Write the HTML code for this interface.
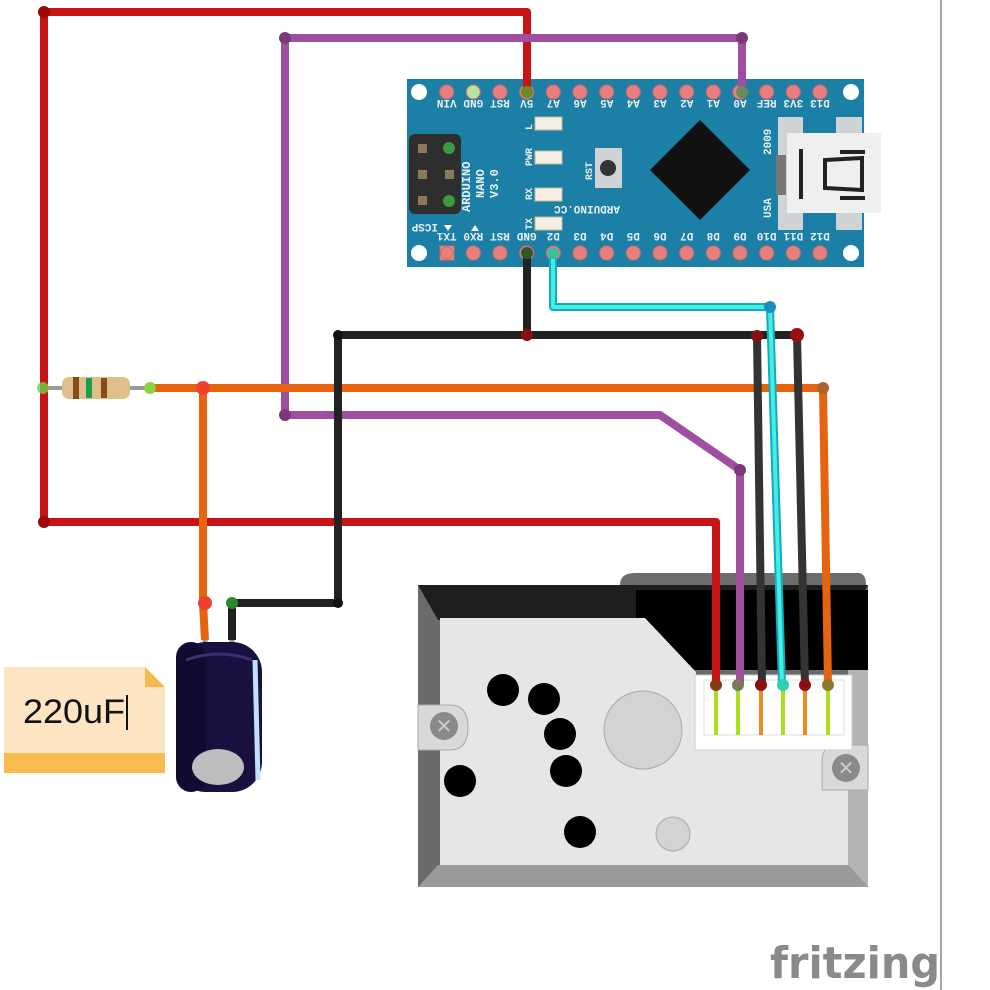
<!DOCTYPE html>
<html><head><meta charset="utf-8"><style>
html,body{margin:0;padding:0;background:#fff;}
svg{display:block;}
text{font-family:"Liberation Mono","DejaVu Sans Mono",monospace;}
</style></head><body>
<svg width="990" height="990" viewBox="0 0 990 990" xmlns="http://www.w3.org/2000/svg">
<rect width="990" height="990" fill="#fff"/>
<line x1="941" y1="0" x2="941" y2="990" stroke="#888" stroke-width="1.5"/>

<!-- Arduino board -->
<rect x="407" y="79" width="457" height="188" fill="#1c7fa6"/>
<circle cx="419" cy="92" r="8" fill="#fff"/><circle cx="851" cy="92" r="8" fill="#fff"/>
<circle cx="419" cy="253" r="8" fill="#fff"/><circle cx="851" cy="253" r="8" fill="#fff"/>
<g fill="#e87f7f" stroke="#d66" stroke-width="1">
<circle cx="446.7" cy="92" r="7"/><circle cx="473.3" cy="92" r="7" fill="#b5e3a0"/><circle cx="500" cy="92" r="7"/><circle cx="526.7" cy="92" r="7"/><circle cx="553.3" cy="92" r="7"/><circle cx="580" cy="92" r="7"/><circle cx="606.7" cy="92" r="7"/><circle cx="633.3" cy="92" r="7"/><circle cx="660" cy="92" r="7"/><circle cx="686.7" cy="92" r="7"/><circle cx="713.3" cy="92" r="7"/><circle cx="740" cy="92" r="7"/><circle cx="766.7" cy="92" r="7"/><circle cx="793.3" cy="92" r="7"/><circle cx="820" cy="92" r="7"/>
<rect x="440" y="246" width="14" height="14" fill="#c9a27a"/><circle cx="446.7" cy="253" r="6"/><circle cx="473.3" cy="253" r="7"/><circle cx="500" cy="253" r="7"/><circle cx="526.7" cy="253" r="7"/><circle cx="553.3" cy="253" r="7"/><circle cx="580" cy="253" r="7"/><circle cx="606.7" cy="253" r="7"/><circle cx="633.3" cy="253" r="7"/><circle cx="660" cy="253" r="7"/><circle cx="686.7" cy="253" r="7"/><circle cx="713.3" cy="253" r="7"/><circle cx="740" cy="253" r="7"/><circle cx="766.7" cy="253" r="7"/><circle cx="793.3" cy="253" r="7"/><circle cx="820" cy="253" r="7"/>
</g>
<g fill="#e8f0f4" font-size="11" font-weight="bold" text-anchor="middle">
<g transform="rotate(180 631 104)">
<text x="815.3" y="108">VIN</text><text x="788.7" y="108">GND</text><text x="762" y="108">RST</text><text x="735.3" y="108">5V</text><text x="708.7" y="108">A7</text><text x="682" y="108">A6</text><text x="655.3" y="108">A5</text><text x="628.7" y="108">A4</text><text x="602" y="108">A3</text><text x="575.3" y="108">A2</text><text x="548.7" y="108">A1</text><text x="522" y="108">A0</text><text x="495.3" y="108">REF</text><text x="468.7" y="108">3V3</text><text x="442" y="108">D13</text>
</g>
<g transform="rotate(180 631 237)">
<text x="815.3" y="241">TX1</text><text x="788.7" y="241">RX0</text><text x="762" y="241">RST</text><text x="735.3" y="241">GND</text><text x="708.7" y="241">D2</text><text x="682" y="241">D3</text><text x="655.3" y="241">D4</text><text x="628.7" y="241">D5</text><text x="602" y="241">D6</text><text x="575.3" y="241">D7</text><text x="548.7" y="241">D8</text><text x="522" y="241">D9</text><text x="495.3" y="241">D10</text><text x="468.7" y="241">D11</text><text x="442" y="241">D12</text>
</g>
</g>
<!-- ICSP -->
<rect x="409" y="134" width="52" height="80" rx="6" fill="#2e2e2e"/>
<g fill="#8a7a5a"><rect x="418" y="144" width="9" height="9"/><rect x="418" y="170" width="9" height="9"/><rect x="418" y="196" width="9" height="9"/><rect x="445" y="170" width="9" height="9"/></g>
<g fill="#3c9a3c"><circle cx="449" cy="148" r="6"/><circle cx="449" cy="201" r="6"/></g>
<text x="0" y="0" fill="#e8f0f4" font-size="11" font-weight="bold" transform="translate(438 224) rotate(180)">ICSP</text>
<text x="0" y="0" fill="#e8f0f4" font-size="12" font-weight="bold" transform="translate(470 212) rotate(-90)">ARDUINO</text>
<text x="0" y="0" fill="#e8f0f4" font-size="12" font-weight="bold" transform="translate(484 198) rotate(-90)">NANO</text>
<text x="0" y="0" fill="#e8f0f4" font-size="12" font-weight="bold" transform="translate(498 198) rotate(-90)">V3.0</text>
<text x="0" y="0" fill="#e8f0f4" font-size="11" font-weight="bold" transform="translate(620 206) rotate(180)">ARDUINO.CC</text>
<polygon points="444,225 452,225 448,231" fill="#fff"/><polygon points="471,231 479,231 475,225" fill="#fff"/>
<!-- LEDs -->
<g fill="#f4efe4" stroke="#c9b99a"><rect x="535" y="117" width="27" height="13"/><rect x="535" y="151" width="27" height="13"/><rect x="535" y="188" width="27" height="13"/><rect x="535" y="217" width="27" height="13"/></g>
<g fill="#e8f0f4" font-size="10" font-weight="bold"><text transform="translate(532 130) rotate(-90)">L</text><text transform="translate(532 166) rotate(-90)">PWR</text><text transform="translate(532 200) rotate(-90)">RX</text><text transform="translate(532 230) rotate(-90)">TX</text><text transform="translate(592 180) rotate(-90)">RST</text></g>
<rect x="595" y="148" width="27" height="40" fill="#cfd3d6"/><circle cx="608" cy="168" r="8" fill="#333"/>
<polygon points="700,120 750,170 700,220 650,170" fill="#111"/>
<g fill="#e8f0f4" font-size="11" font-weight="bold"><text transform="translate(771 155) rotate(-90)">2009</text><text transform="translate(771 218) rotate(-90)">USA</text></g>
<g fill="#cfd3d6"><rect x="778" y="117" width="25" height="113"/><rect x="836" y="117" width="26" height="113"/></g>
<rect x="787" y="133" width="94" height="80" fill="#efefef"/>
<rect x="776" y="155" width="10" height="40" fill="#777"/>
<g fill="#222"><rect x="799" y="149" width="4" height="50"/><rect x="840" y="150" width="25" height="4"/><rect x="840" y="196" width="25" height="4"/><path d="M825 160 L862 158 L862 190 L825 188 Z" fill="none" stroke="#222" stroke-width="4"/></g>

<!-- Sensor -->
<path d="M620 585 Q620 573 635 573 L858 573 Q866 573 866 585 Z" fill="#6d6d6d"/>
<polygon points="418,585 868,585 868,887 418,887" fill="#6a6a6a"/>
<polygon points="418,585 868,585 848,620 438,620" fill="#1e1e1e"/>
<polygon points="418,887 868,887 848,865 438,865" fill="#9a9a9a"/>
<polygon points="848,590 868,590 868,887 848,865" fill="#b4b4b4"/>
<rect x="636" y="590" width="232" height="80" fill="#000"/>
<path d="M440 618 L645 618 L696 672 L696 750 L848 750 L848 865 L440 865 Z" fill="#e6e6e6"/>
<path d="M418 705 L450 705 Q468 705 468 727 Q468 750 450 750 L418 750Z" fill="#d9d9d9" stroke="#aaa"/>
<circle cx="444" cy="726" r="14" fill="#8a8a8a"/><text x="444" y="733" text-anchor="middle" fill="#ccc" font-size="20" style="font-family:'DejaVu Sans'">✕</text>
<path d="M868 745 L838 745 Q822 745 822 762 L822 790 L868 790Z" fill="#d9d9d9" stroke="#aaa"/>
<circle cx="846" cy="768" r="14" fill="#8a8a8a"/><text x="846" y="775" text-anchor="middle" fill="#ccc" font-size="20" style="font-family:'DejaVu Sans'">✕</text>
<g fill="#000"><circle cx="503" cy="690" r="16"/><circle cx="544" cy="699" r="16"/><circle cx="560" cy="734" r="16"/><circle cx="566" cy="771" r="16"/><circle cx="460" cy="781" r="16"/><circle cx="580" cy="832" r="16"/></g>
<circle cx="643" cy="730" r="39" fill="#d3d3d3" stroke="#aaa"/>
<circle cx="673" cy="834" r="17" fill="#d3d3d3" stroke="#aaa"/>
<rect x="695" y="675" width="157" height="75" fill="#fff" stroke="#ccc"/>
<rect x="704" y="680" width="140" height="55" fill="none" stroke="#ddd"/>
<g stroke-width="4"><line x1="716" y1="685" x2="716" y2="735" stroke="#a8e01c"/><line x1="738" y1="685" x2="738" y2="735" stroke="#a8e01c"/><line x1="761" y1="685" x2="761" y2="735" stroke="#f08a1c"/><line x1="783" y1="685" x2="783" y2="735" stroke="#a8e01c"/><line x1="805" y1="685" x2="805" y2="735" stroke="#f08a1c"/><line x1="828" y1="685" x2="828" y2="735" stroke="#a8e01c"/></g>

<!-- Note -->
<polygon points="4,667 145,667 165,687 165,773 4,773" fill="#fde5c3"/>
<polygon points="145,667 165,687 145,687" fill="#f5b84c"/>
<rect x="4" y="753" width="161" height="20" fill="#f7bb50"/>
<text x="23" y="723" font-size="34" fill="#111" textLength="102" lengthAdjust="spacingAndGlyphs" style="font-family:'Liberation Sans',sans-serif">220uF</text>
<rect x="126" y="695" width="2" height="35" fill="#111"/>

<!-- Capacitor -->
<line x1="205" y1="605" x2="205" y2="648" stroke="#999" stroke-width="5"/>
<line x1="232" y1="605" x2="232" y2="648" stroke="#999" stroke-width="5"/>
<rect x="176" y="642" width="86" height="150" rx="30" fill="#1a1040"/>
<rect x="176" y="642" width="30" height="150" rx="15" fill="#120a30"/>
<path d="M186 660 Q219 648 252 660" stroke="#3a3070" stroke-width="3" fill="none"/>
<path d="M255 660 L258 780" stroke="#bfe0ff" stroke-width="5" fill="none"/>
<ellipse cx="218" cy="767" rx="26" ry="18" fill="#bdbdbd"/>

<!-- Resistor -->
<line x1="43" y1="388" x2="150" y2="388" stroke="#999" stroke-width="4"/>
<rect x="62" y="377" width="68" height="22" rx="7" fill="#e0c08a"/>
<rect x="73" y="377" width="6" height="22" fill="#8a4a1a"/><rect x="86" y="378" width="6" height="20" fill="#1aa04a"/><rect x="101" y="378" width="6" height="20" fill="#8a4a1a"/>

<!-- Wires -->
<g fill="none" stroke-width="8" stroke-linejoin="round">
<polyline points="44,12 527,12 527,92" stroke="#c81414"/>
<polyline points="44,12 44,522 716,522 716,685" stroke="#c81414"/>
<polyline points="285,38 742,38 742,92" stroke="#a04ea0"/>
<polyline points="285,38 285,415 660,415 740,470 740,685" stroke="#a04ea0"/>
<polyline points="150,388 823,388 828,685" stroke="#e6640e"/>
<polyline points="203,388 203,603 205,640" stroke="#e6640e"/>
<polyline points="527,253 527,335" stroke="#222"/>
<polyline points="338,335 797,335" stroke="#222"/>
<polyline points="757,336 762,685" stroke="#333"/>
<polyline points="797,335 805,685" stroke="#333"/>
<polyline points="338,335 338,603 232,603 232,640" stroke="#222"/>
<polyline points="553,253 553,307 770,307 782,685" stroke="#1aa8c0"/>
</g>
<g fill="none" stroke-width="4" stroke-linejoin="round">
<polyline points="553,258 553,307 770,307 782,685" stroke="#40f0e0"/>
</g>
<g>
<circle cx="44" cy="12" r="6" fill="#9a0a0a"/><circle cx="44" cy="522" r="6" fill="#9a0a0a"/>
<circle cx="285" cy="38" r="6" fill="#7a3a7a"/><circle cx="742" cy="38" r="6" fill="#7a3a7a"/><circle cx="285" cy="415" r="6" fill="#7a3a7a"/><circle cx="740" cy="470" r="6" fill="#7a3a7a"/>
<circle cx="203" cy="388" r="7" fill="#f04030"/><circle cx="205" cy="603" r="7" fill="#f04030"/><circle cx="823" cy="388" r="6" fill="#b0602a"/>
<circle cx="527" cy="335" r="6" fill="#8a1010"/><circle cx="757" cy="336" r="6" fill="#8a1010"/><circle cx="797" cy="335" r="7" fill="#9a1010"/><circle cx="338" cy="335" r="5" fill="#111"/><circle cx="338" cy="603" r="5" fill="#111"/>
<circle cx="770" cy="307" r="6" fill="#1a90c0"/>
<circle cx="232" cy="603" r="6" fill="#2a8a2a"/><circle cx="43" cy="388" r="6" fill="#6cd24a" opacity="0.8"/><circle cx="150" cy="388" r="6" fill="#8cd23a"/>
<circle cx="527" cy="92" r="6" fill="#6a8a2a"/><circle cx="742" cy="92" r="6" fill="#6a8a5a"/><circle cx="527" cy="253" r="6" fill="#2a5a2a"/><circle cx="553" cy="253" r="6" fill="#3ac0a0"/>
<g><circle cx="716" cy="685" r="6" fill="#8a3a10"/><circle cx="738" cy="685" r="6" fill="#7a7a5a"/><circle cx="761" cy="685" r="6" fill="#8a1010"/><circle cx="783" cy="685" r="6" fill="#2ad0b0"/><circle cx="805" cy="685" r="6" fill="#8a1010"/><circle cx="828" cy="685" r="6" fill="#8a7a2a"/></g>
</g>

<text x="770" y="978" font-size="44" font-weight="bold" fill="#8a8a8a" textLength="170" lengthAdjust="spacingAndGlyphs" style="font-family:'DejaVu Sans','Liberation Sans',sans-serif">fritzing</text>
</svg>
</body></html>
